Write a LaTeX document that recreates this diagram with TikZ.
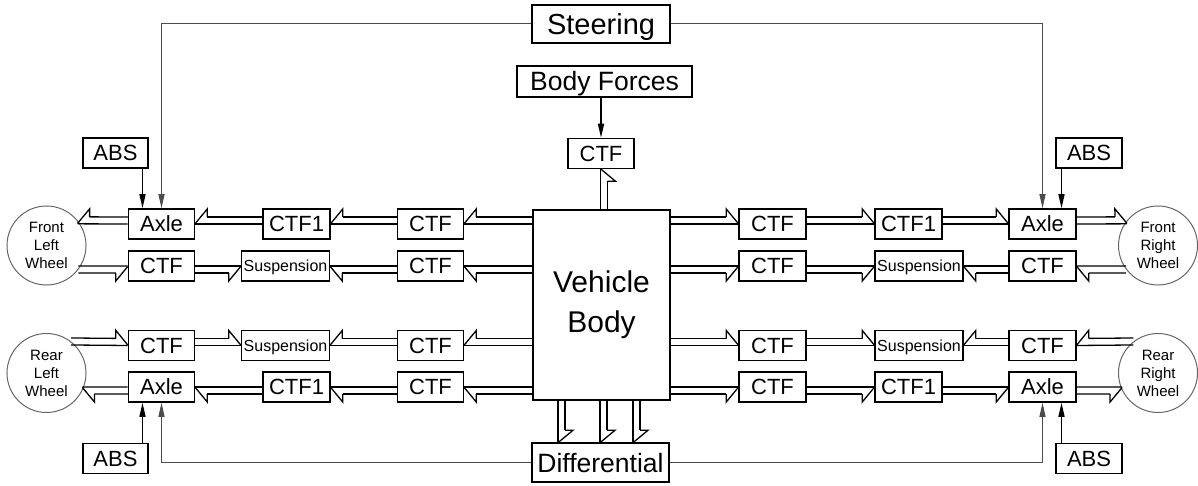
\documentclass[tikz,border=0pt]{standalone}
\usepackage{fontspec}
\setmainfont{Liberation Sans}
\usetikzlibrary{arrows.meta, decorations.markings}

% half arrow on a double line, #1 = side of the barb (+1 left of the path, -1 right)
\newcommand{\halfbond}[1]{%
  \draw[bondln] (0pt,{-3.5pt*(#1)}) -- (-\pgfdecoratedpathlength,{-3.5pt*(#1)});
  \draw[bondln] (-12pt,{3.5pt*(#1)}) -- (-\pgfdecoratedpathlength,{3.5pt*(#1)});
  \draw[bondln, line join=miter] (0pt,{-3pt*(#1)}) -- (-12pt,{11.5pt*(#1)}) -- (-12pt,{3.5pt*(#1)});
}

\tikzset{
  blk/.style={draw, line width=1.5pt, inner sep=0pt, minimum width=#1, minimum height=30pt,
    text height=15.7pt, text depth=0pt, font=\fontsize{22}{26}\selectfont},
  blk/.default=66pt,
  susp/.style={blk=88pt, text height=11.5pt, font=\fontsize{16}{19}\selectfont},
  ttl/.style={draw, line width=1.5pt, inner sep=0pt, text height=19pt, text depth=0pt,
    font=\fontsize{26.5}{31}\selectfont},
  wheel/.style={circle, draw=black!60, line width=1pt, minimum size=79pt, inner sep=0pt,
    align=center, font=\fontsize{15}{18}\selectfont},
  bondln/.style={line width=1.3pt},
  bond/.style={postaction={decorate, decoration={markings, mark=at position 1 with {\halfbond{#1}}}}},
  sig/.style={-{Triangle[length=14pt,width=6pt]}, line width=1.4pt},
  ctl/.style={-{Triangle[length=14pt,width=6pt]}, line width=1pt, draw=black!70}
}

\begin{document}
\begin{tikzpicture}[x=1pt, y=-1pt]
  \useasboundingbox (0,0) rectangle (1198,486);

  % inputs on top
  \node[ttl, minimum width=138pt, minimum height=38pt, text height=20.8pt,
    font=\fontsize{29}{34}\selectfont] (steer) at (601,24) {Steering};
  \node[ttl, minimum width=175pt, minimum height=31pt] (bforce) at (604.5,81.5) {Body Forces};
  \node[blk] (ctfT) at (601,153.5) {CTF};

  % vehicle body and differential
  \node[draw, line width=1.5pt, minimum width=137pt, minimum height=190pt, align=center,
    font=\fontsize{30}{40}\selectfont] (body) at (601.5,305) {Vehicle\\Body};
  \node[ttl, minimum width=137pt, minimum height=39pt] (diff) at (600.5,462.5) {Differential};

  % left side
  \node[blk] (axFL) at (161.5,224) {Axle};
  \node[blk=67pt] (c1FL) at (296.5,224) {CTF1};
  \node[blk] (cFL) at (430.5,224) {CTF};
  \node[blk] (cwFL) at (161.5,266) {CTF};
  \node[susp] (suFL) at (285.5,266) {Suspension};
  \node[blk] (cbFL) at (430.5,266) {CTF};
  \node[blk] (cwRL) at (161.5,345.5) {CTF};
  \node[susp] (suRL) at (285.5,345.5) {Suspension};
  \node[blk] (cbRL) at (430.5,345.5) {CTF};
  \node[blk] (axRL) at (161.5,387) {Axle};
  \node[blk=67pt] (c1RL) at (296.5,387) {CTF1};
  \node[blk] (cRL) at (430.5,387) {CTF};

  % right side
  \node[blk=67pt] (cFR) at (772.5,224) {CTF};
  \node[blk=67pt] (c1FR) at (908.5,224) {CTF1};
  \node[blk=67pt] (axFR) at (1042.5,224) {Axle};
  \node[blk=67pt] (cbFR) at (772.5,266) {CTF};
  \node[susp] (suFR) at (919,266) {Suspension};
  \node[blk=67pt] (cwFR) at (1042.5,266) {CTF};
  \node[blk=67pt] (cbRR) at (772.5,345.5) {CTF};
  \node[susp] (suRR) at (919,345.5) {Suspension};
  \node[blk=67pt] (cwRR) at (1042.5,345.5) {CTF};
  \node[blk=67pt] (cRR) at (772.5,387) {CTF};
  \node[blk=67pt] (c1RR) at (908.5,387) {CTF1};
  \node[blk=67pt] (axRR) at (1042.5,387) {Axle};

  % abs units
  \node[blk=65pt] (absFL) at (115.5,153) {ABS};
  \node[blk] (absFR) at (1089,153) {ABS};
  \node[blk=65pt] (absRL) at (115.5,458.5) {ABS};
  \node[blk] (absRR) at (1089,458.5) {ABS};

  % wheels
  \node[wheel] (wFL) at (46.5,245.5) {Front\\Left\\Wheel};
  \node[wheel] (wRL) at (46.5,373) {Rear\\Left\\Wheel};
  \node[wheel] (wFR) at (1158,245.5) {Front\\Right\\Wheel};
  \node[wheel] (wRR) at (1158,373) {Rear\\Right\\Wheel};

  % signal arrows
  \draw[sig] (bforce.south -| ctfT) -- (ctfT);
  \draw[ctl] (steer.west) -| (axFL.north);
  \draw[ctl] (steer.east) -| (axFR.north);
  \draw[ctl] (diff.west) -| (axRL.south);
  \draw[ctl] (diff.east) -| (axRR.south);
  \coordinate (pFL) at ([xshift=-19pt]axFL.north);
  \coordinate (pFR) at ([xshift=19pt]axFR.north);
  \coordinate (pRL) at ([xshift=-19pt]axRL.south);
  \coordinate (pRR) at ([xshift=19pt]axRR.south);
  \draw[sig] (absFL.south -| pFL) -- (pFL);
  \draw[sig] (absFR.south -| pFR) -- (pFR);
  \draw[sig] (absRL.north -| pRL) -- (pRL);
  \draw[sig] (absRR.north -| pRR) -- (pRR);

  % bonds, body up and down
  \path[bond=-1] ([xshift=3pt]ctfT.south |- body.north) -- ([xshift=3pt]ctfT.south);
  \foreach \dx in {-39,3,36}
    \path[bond=1] ([xshift=\dx pt]diff.north |- body.south) -- ([xshift=\dx pt]diff.north);

  % bonds, left rows
  \foreach \a/\b/\s/\dy in {body.west |- cFL/cFL.east/-1/3.5, cFL.west/c1FL.east/-1/3.5,
      c1FL.west/axFL.east/-1/3.5,
      cwFL.east/suFL.west/-1/-3.5, cbFL.west/suFL.east/1/-3.5, body.west |- cbFL/cbFL.east/1/-3.5,
      cwRL.east/suRL.west/1/3.5, cbRL.west/suRL.east/-1/3.5, body.west |- cbRL/cbRL.east/-1/3.5,
      body.west |- cRL/cRL.east/1/-3.5, cRL.west/c1RL.east/1/-3.5, c1RL.west/axRL.east/1/-3.5}
    \path[bond=\s] ([yshift=\dy pt]\a) -- ([yshift=\dy pt]\b);
  \path[bond=-1] ([yshift=3.5pt]axFL.west) -- (wFL.39);
  \path[bond=-1] (wFL.-37) -- ([yshift=-3.5pt]cwFL.west);
  \path[bond=1] (wRL.52) -- ([yshift=3.5pt]cwRL.west);
  \path[bond=1] ([yshift=-3.5pt]axRL.west) -- (wRL.-26);

  % bonds, right rows
  \foreach \a/\b/\s/\dy in {body.east |- cFR/cFR.west/1/3.5, cFR.east/c1FR.west/1/3.5,
      c1FR.east/axFR.west/1/3.5,
      body.east |- cbFR/cbFR.west/-1/-3.5, cbFR.east/suFR.west/-1/-3.5, cwFR.west/suFR.east/1/-3.5,
      body.east |- cbRR/cbRR.west/1/3.5, cbRR.east/suRR.west/1/3.5, cwRR.west/suRR.east/-1/3.5,
      body.east |- cRR/cRR.west/-1/-3.5, cRR.east/c1RR.west/-1/-3.5, c1RR.east/axRR.west/-1/-3.5}
    \path[bond=\s] ([yshift=\dy pt]\a) -- ([yshift=\dy pt]\b);
  \path[bond=1] ([yshift=3.5pt]axFR.east) -- (wFR.141);
  \path[bond=1] (wFR.217) -- ([yshift=-3.5pt]cwFR.east);
  \path[bond=-1] (wRR.128) -- ([yshift=3.5pt]cwRR.east);
  \path[bond=-1] ([yshift=-3.5pt]axRR.east) -- (wRR.206);
\end{tikzpicture}
\end{document}
